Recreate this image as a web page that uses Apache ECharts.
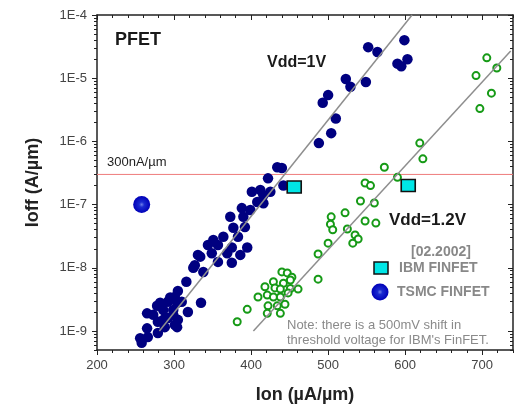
<!DOCTYPE html>
<html>
<head>
<meta charset="utf-8">
<title>PFET Ioff vs Ion</title>
<script src="https://cdn.jsdelivr.net/npm/echarts@6/dist/echarts.min.js"></script>
<style>
  html, body { margin: 0; padding: 0; background: #fff; }
  #chart { width: 516px; height: 406px; }
</style>
</head>
<body>
<div id="chart"></div>
<script>
// Ion in uA/um, Ioff in A/um
const vdd1V = [
  [599, 4.0e-5], [552, 3.1e-5], [564, 2.6e-5], [603, 2.0e-5], [590, 1.7e-5], [595, 1.55e-5],
  [523, 9.7e-6], [549, 8.7e-6], [529, 7.3e-6], [500, 5.4e-6], [493, 4.1e-6], [510, 2.3e-6],
  [504, 1.35e-6], [488, 9.4e-7],
  [434, 3.9e-7], [440, 3.8e-7], [422, 2.6e-7], [442, 2.0e-7], [412, 1.7e-7], [425, 1.6e-7],
  [401, 1.6e-7], [416, 1.4e-7], [408, 1.1e-7], [416, 1.05e-7],
  [388, 8.8e-8], [399, 8.2e-8], [373, 6.4e-8], [390, 6.4e-8], [392, 4.4e-8], [377, 4.3e-8],
  [364, 3.1e-8], [383, 3.1e-8], [351, 2.75e-8], [344, 2.3e-8], [357, 2.3e-8], [375, 2.1e-8],
  [395, 2.1e-8], [349, 1.7e-8], [369, 1.7e-8], [386, 1.6e-8], [331, 1.6e-8], [334, 1.5e-8],
  [357, 1.24e-8], [375, 1.2e-8], [327, 1.1e-8], [325, 1.0e-8],
  [338, 8.6e-9], [316, 6.0e-9], [305, 4.3e-9], [335, 2.8e-9], [301, 3.45e-9], [295, 3.4e-9],
  [292, 2.9e-9], [310, 2.9e-9], [304, 2.8e-9], [282, 2.8e-9], [278, 2.5e-9], [286, 2.15e-9],
  [299, 2.15e-9], [318, 2.0e-9], [265, 1.9e-9], [299, 1.8e-9], [273, 1.8e-9], [292, 1.6e-9],
  [305, 1.5e-9], [286, 1.5e-9], [279, 1.4e-9], [301, 1.25e-9], [288, 1.15e-9], [304, 1.15e-9],
  [265, 1.1e-9], [279, 9.3e-10], [266, 8.0e-10], [256, 7.7e-10], [258, 6.5e-10]
];

const vdd12V = [
  [706, 2.1e-5], [719, 1.45e-5], [692, 1.1e-5], [712, 5.8e-6], [697, 3.3e-6],
  [619, 9.4e-7], [623, 5.3e-7], [573, 3.9e-7], [590, 2.7e-7], [548, 2.2e-7], [555, 2.0e-7],
  [542, 1.14e-7], [560, 1.06e-7], [522, 7.4e-8], [504, 6.4e-8], [503, 4.9e-8], [548, 5.5e-8],
  [562, 5.1e-8], [506, 4.0e-8], [525, 4.1e-8], [535, 3.3e-8], [539, 2.85e-8], [532, 2.45e-8],
  [500, 2.45e-8], [487, 1.65e-8], [487, 6.6e-9],
  [440, 8.6e-9], [447, 8.3e-9], [453, 7.1e-9], [429, 6.0e-9], [442, 5.7e-9], [451, 6.4e-9],
  [418, 5.0e-9], [431, 4.8e-9], [451, 4.7e-9], [461, 4.6e-9], [438, 4.6e-9],
  [409, 3.45e-9], [421, 3.7e-9], [429, 3.45e-9], [438, 3.45e-9], [448, 4.0e-9],
  [444, 2.65e-9], [434, 2.5e-9], [422, 2.5e-9], [395, 2.2e-9],
  [421, 1.9e-9], [438, 1.9e-9], [382, 1.4e-9]
];

const ibmFinfet = [[456, 1.9e-7], [604, 2.0e-7]];
const tsmcFinfet = [[258, 1.0e-7]];
const fit1V = [[281, 1e-9], [609, 1e-4]];
const fit12V = [[403, 1e-9], [737, 2.7e-5]];
const spec300nA = [[200, 3e-7], [740, 3e-7]];

const xMajor = [200, 300, 400, 500, 600, 700];
const yMajor = [1e-9, 1e-8, 1e-7, 1e-6, 1e-5, 1e-4];
const xRange = [200, 740];
const yRange = [5e-10, 1e-4];

const lg = v => Math.log10(v);
const toPlot = pts => pts.map(p => [p[0], lg(p[1])]);

const xMinor = [];
for (let v = xRange[0]; v <= xRange[1]; v += 20) xMinor.push(v);
const yMinor = [];
yMajor.forEach(d => {
  for (let m = 2; m <= 9; m++) {
    const v = d / 10 * m;
    if (v >= yRange[0] && v <= yRange[1]) yMinor.push(lg(v));
  }
});
const yMajorLog = yMajor.map(lg);

const font = "'Liberation Sans', Arial, sans-serif";
const axisColor = '#222';

function xAx(pos, ticks, len, inside, main) {
  return {
    type: 'value', position: pos, min: xRange[0], max: xRange[1],
    axisLine: { show: main, onZero: false, lineStyle: { color: axisColor, width: 1.5 } },
    axisTick: { customValues: ticks, length: len, inside: inside, lineStyle: { color: axisColor, width: 1 } },
    axisLabel: { show: false },
    splitLine: { show: false }
  };
}
function yAx(pos, ticks, len, inside, main) {
  return {
    type: 'value', position: pos, min: lg(yRange[0]), max: lg(yRange[1]),
    axisLine: { show: main, onZero: false, lineStyle: { color: axisColor, width: 1.5 } },
    axisTick: { customValues: ticks, length: len, inside: inside, lineStyle: { color: axisColor, width: 1 } },
    axisLabel: { show: false },
    splitLine: { show: false }
  };
}

const xBottom = xAx('bottom', xMajor, 5, false, true);
xBottom.axisLabel = { show: true, customValues: xMajor, margin: 9, fontSize: 13, color: '#444', fontFamily: font };
xBottom.name = 'Ion (\u00b5A/\u00b5m)';
xBottom.nameLocation = 'middle';
xBottom.nameGap = 36;
xBottom.nameTextStyle = { fontSize: 18, fontWeight: 'bold', color: '#222', fontFamily: font };

const yLeft = yAx('left', yMajorLog, 5, false, true);
yLeft.axisLabel = {
  show: true, customValues: yMajorLog, margin: 10, fontSize: 13, color: '#444', fontFamily: font,
  formatter: v => '1E' + Math.round(v)
};
yLeft.name = 'Ioff (A/\u00b5m)';
yLeft.nameLocation = 'middle';
yLeft.nameRotate = 90;
yLeft.nameGap = 55;
yLeft.nameTextStyle = { fontSize: 18, fontWeight: 'bold', color: '#222', fontFamily: font };

const tsmcFill = new echarts.graphic.RadialGradient(0.5, 0.5, 0.5, [
  { offset: 0, color: '#6f7fe8' },
  { offset: 0.3, color: '#1a2ad0' },
  { offset: 1, color: '#0000b8' }
]);

const chart = echarts.init(document.getElementById('chart'));
chart.setOption({
  animation: false,
  backgroundColor: '#fff',
  grid: { left: 97, right: 3, top: 15, bottom: 56, containLabel: false, outerBoundsMode: 'none' },
  xAxis: [
    xBottom,
    xAx('bottom', xMinor, 3, false, false),
    xAx('top', xMajor, 5, true, true),
    xAx('top', xMinor, 3, true, false)
  ],
  yAxis: [
    yLeft,
    yAx('left', yMinor, 3, false, false),
    yAx('right', yMajorLog, 5, true, true),
    yAx('right', yMinor, 3, true, false)
  ],
  series: [
    {
      name: '300nA/um', type: 'line', data: toPlot(spec300nA), symbol: 'none', silent: true, z: 1,
      lineStyle: { color: '#ee7c7c', width: 1 }
    },
    {
      name: 'Vdd=1V', type: 'scatter', data: toPlot(vdd1V), symbolSize: 10.5, z: 2,
      itemStyle: { color: '#000080', opacity: 1 }
    },
    {
      name: 'Vdd=1.2V', type: 'scatter', data: toPlot(vdd12V), symbolSize: 7, z: 2,
      itemStyle: { color: '#fff', borderColor: '#169a16', borderWidth: 2, opacity: 1 }
    },
    {
      name: 'fit 1V', type: 'line', data: toPlot(fit1V), symbol: 'none', silent: true, z: 5,
      lineStyle: { color: '#8e8e8e', width: 1.5 }
    },
    {
      name: 'fit 1.2V', type: 'line', data: toPlot(fit12V), symbol: 'none', silent: true, z: 5,
      lineStyle: { color: '#8e8e8e', width: 1.5 }
    },
    {
      name: 'IBM FINFET', type: 'scatter', data: toPlot(ibmFinfet), symbol: 'rect', symbolSize: [14, 12], z: 6,
      itemStyle: { color: '#00e6e6', borderColor: '#111', borderWidth: 1.5, opacity: 1 }
    },
    {
      name: 'TSMC FINFET', type: 'scatter', data: toPlot(tsmcFinfet), symbolSize: 17, z: 6,
      itemStyle: { color: tsmcFill, opacity: 1 }
    }
  ],
  graphic: [
    { type: 'text', left: 115, top: 31, style: { text: 'PFET', font: 'bold 18px ' + font, fill: '#1a1a1a' } },
    { type: 'text', left: 267, top: 55, style: { text: 'Vdd=1V', font: 'bold 16px ' + font, fill: '#1a1a1a' } },
    { type: 'text', left: 389, top: 212, style: { text: 'Vdd=1.2V', font: 'bold 17px ' + font, fill: '#1a1a1a' } },
    { type: 'text', left: 107, top: 156, style: { text: '300nA/\u00b5m', font: '13px ' + font, fill: '#222' } },
    { type: 'text', left: 411, top: 245, style: { text: '[02.2002]', font: 'bold 14px ' + font, fill: '#888' } },
    { type: 'rect', shape: { x: 374, y: 262, width: 14, height: 12 }, style: { fill: '#00e6e6', stroke: '#111', lineWidth: 1.5 } },
    { type: 'text', left: 399, top: 261, style: { text: 'IBM FINFET', font: 'bold 14px ' + font, fill: '#888' } },
    { type: 'circle', shape: { cx: 380, cy: 292, r: 8.5 }, style: { fill: tsmcFill } },
    { type: 'text', left: 397, top: 285, style: { text: 'TSMC FINFET', font: 'bold 14px ' + font, fill: '#888' } },
    { type: 'text', left: 287, top: 319, style: { text: 'Note: there is a 500mV shift in', font: '13px ' + font, fill: '#8a8a8a' } },
    { type: 'text', left: 287, top: 334, style: { text: "threshold voltage for IBM's FinFET.", font: '13px ' + font, fill: '#8a8a8a' } }
  ]
});
</script>
</body>
</html>
